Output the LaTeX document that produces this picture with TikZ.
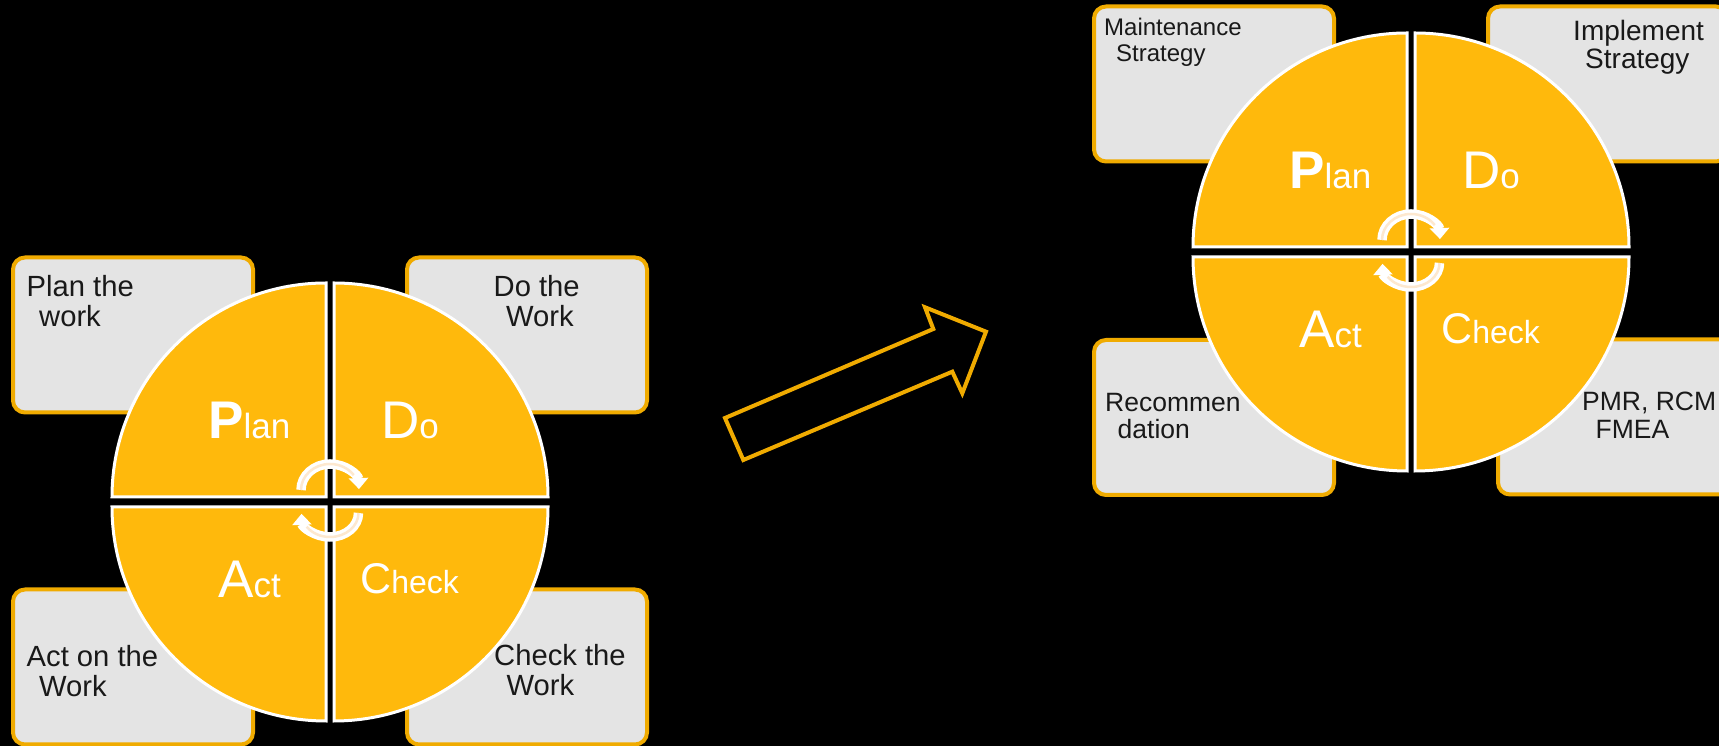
\documentclass[tikz,border=0pt]{standalone}
\usepackage{fontspec}
\setmainfont{Liberation Sans}
\usetikzlibrary{arrows.meta}
\definecolor{pdcaamber}{HTML}{FFB90C}
\definecolor{edgeamber}{HTML}{F0AB00}
\definecolor{boxgrey}{HTML}{E4E4E4}
\definecolor{cyclepeach}{HTML}{FDE8CF}
\newcommand{\capletter}[1]{{\fontsize{53}{53}\selectfont #1}}
\tikzset{
  infobox/.style={rectangle, draw=edgeamber, line width=4pt, rounded corners=12pt, fill=boxgrey, minimum width=240pt, minimum height=155pt, inner sep=0pt},
  quadrant/.style={fill=pdcaamber, draw=white, line width=3pt},
  boxtext/.style={anchor=base west, inner sep=0pt, align=left, text=black!90, font=\fontsize{29.2}{30.6}\selectfont},
  boxtextmd/.style={boxtext, font=\fontsize{26.5}{27.3}\selectfont},
  boxtextsm/.style={boxtext, font=\fontsize{24}{25.7}\selectfont},
  wordtext/.style={anchor=base west, inner sep=0pt, text=white, font=\fontsize{35}{35}\selectfont},
  cycleband/.style={white, line width=9.5pt, -{Triangle[length=11pt,width=19pt]}},
  cyclecore/.style={cyclepeach, line width=2.5pt},
  bigarrow/.style={draw=edgeamber, line width=4pt, miter limit=10}
}
\begin{document}
\begin{tikzpicture}[x=1pt, y=1pt]
  \clip (0,0) rectangle (1719,746);
  \fill[black] (0,0) rectangle (1719,746);

  % left side boxes
  \node[infobox] (planbox) at (133,411) {};
  \node[infobox] (dobox) at (527,411) {};
  \node[infobox] (actbox) at (133,79) {};
  \node[infobox] (checkbox) at (527,79) {};

  % right side boxes
  \node[infobox] (maintbox) at (1214,662) {};
  \node[infobox] (implbox) at (1608,662) {};
  \node[infobox] (recobox) at (1214,328.5) {};
  \node[infobox] (pmrbox) at (1618,329) {};

  \node[boxtext] (plantext) at (26.5,419.3) {Plan the\\\hspace{12.5pt}work};
  \node[boxtext] (dotext) at (493.5,419.3) {Do the\\\hspace{12.5pt}Work};
  \node[boxtext] (acttext) at (26.5,49) {Act on the\\\hspace{12.5pt}Work};
  \node[boxtext] (checktext) at (494,50.3) {Check the\\\hspace{12.5pt}Work};
  \node[boxtextsm] (mainttext) at (1104,684.3) {Maintenance\\\hspace{12pt}Strategy};
  \node[boxtext, font=\fontsize{28}{28}\selectfont] (impltext) at (1573,677) {Implement\\\hspace{12pt}Strategy};
  \node[boxtextmd] (recotext) at (1105,307) {Recommen\\\hspace{12.5pt}dation};
  \node[boxtextmd] (pmrtext) at (1582,307.7) {PMR, RCM\\\hspace{13.5pt}FMEA};

  % both wheels
  \foreach \wh/\dx/\dy in {l/0/0, r/1081/250} {
    \begin{scope}[shift={(\dx,\dy)}]
      \draw[quadrant] (326,249) -- (112,249) arc[start angle=180, end angle=90, radius=214pt] -- cycle;
      \draw[quadrant] (334,249) -- (548,249) arc[start angle=0, end angle=90, radius=214pt] -- cycle;
      \draw[quadrant] (326,239) -- (112,239) arc[start angle=180, end angle=270, radius=214pt] -- cycle;
      \draw[quadrant] (334,239) -- (548,239) arc[start angle=0, end angle=-90, radius=214pt] -- cycle;

      \node[wordtext] (plan\wh) at (208,307.7) {\capletter{\bfseries P}lan};
      \node[wordtext] (do\wh) at (381,307.7) {\capletter{D}o};
      \node[wordtext] (act\wh) at (218,148.3) {\capletter{A}ct};
      \node[wordtext, font=\fontsize{32}{32}\selectfont] (check\wh) at (360,152) {{\fontsize{43}{43}\selectfont C}heck};

      \draw[cycleband] (301,256) arc[start angle=180, end angle=2, x radius=29pt, y radius=26pt];
      \draw[cyclecore] (301,256) arc[start angle=180, end angle=35, x radius=29pt, y radius=26pt];
      \draw[cycleband] (358.5,233) arc[start angle=0, end angle=-178, x radius=28.5pt, y radius=24pt];
      \draw[cyclecore] (358.5,233) arc[start angle=0, end angle=-145, x radius=28.5pt, y radius=24pt];
    \end{scope}
  }

  \draw[bigarrow] (725,328) -- (743.3,286) -- (952.3,374.3) -- (962.3,352.7) -- (986,414.3) -- (925,438.7) -- (933.3,417) -- cycle;
\end{tikzpicture}
\end{document}
